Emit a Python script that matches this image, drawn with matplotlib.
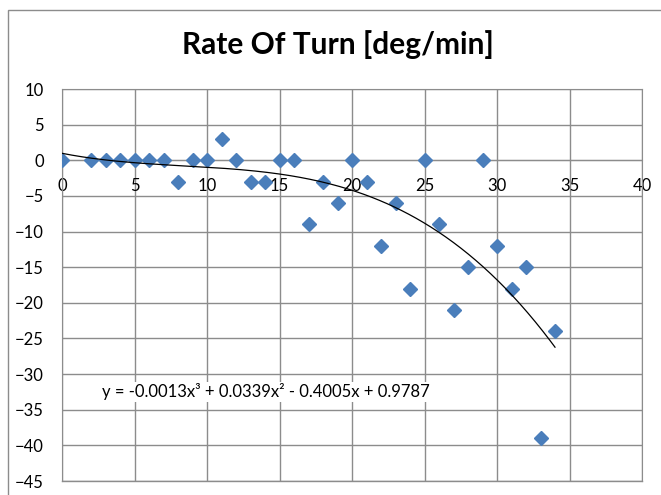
import numpy as np
import matplotlib
matplotlib.use('Agg')
import matplotlib.pyplot as plt
from matplotlib.patches import Rectangle

# Rate of turn samples
x_vals = [0, 2, 3, 4, 5, 6, 7, 8, 9, 10, 11, 12, 13, 14, 15, 16, 17, 18, 19, 20,
          21, 22, 23, 24, 25, 26, 27, 28, 29, 30, 31, 32, 33, 34]
y_vals = [0, 0, 0, 0, 0, 0, 0, -3, 0, 0, 3, 0, -3, -3, 0, 0, -9, -3, -6, 0,
          -3, -12, -6, -18, 0, -9, -21, -15, 0, -12, -18, -15, -39, -24]
x_ticks = [0, 5, 10, 15, 20, 25, 30, 35, 40]
y_ticks = [10, 5, 0, -5, -10, -15, -20, -25, -30, -35, -40, -45]
equation = 'y = -0.0013x\u00b3 + 0.0339x\u00b2 - 0.4005x + 0.9787'

plt.rcParams['font.family'] = ['Lato', 'DejaVu Sans']

fig = plt.figure(figsize=(6.61, 4.95), dpi=100)
ax = fig.add_axes([62/661, 1 - 481/495, (642 - 62)/661, (481 - 89)/495])

# outer chart border
fig.patches.append(Rectangle((8/661, -0.1), 1.2, 1 - 10/495 + 0.1,
                             transform=fig.transFigure, fill=False,
                             edgecolor='#8c8c8c', linewidth=1.0))

ax.set_xlim(0, 40)
ax.set_ylim(-45, 10)
ax.set_xticks(x_ticks)
ax.set_yticks(y_ticks)
ax.grid(True, color='#8c8c8c', linewidth=1.0)
ax.set_axisbelow(True)

for side in ['top', 'right', 'left']:
    ax.spines[side].set_color('#8c8c8c')
ax.spines['bottom'].set_position(('data', 0))
ax.spines['bottom'].set_color('#8c8c8c')
ax.tick_params(length=0, labelsize=12)
ax.tick_params(axis='x', pad=13)
ax.tick_params(axis='y', pad=13)

# bottom border of plot area
ax.axhline(-45, color='#8c8c8c', linewidth=1.0, clip_on=False)

ax.plot(x_vals, y_vals, linestyle='none', marker='D', markersize=7.5,
        color='#4a7ebb', zorder=3)

coef = np.polyfit(x_vals, y_vals, 3)
xs = np.linspace(0, 34, 200)
ax.plot(xs, np.polyval(coef, xs), color='black', linewidth=0.9, zorder=4)

ax.text(2.75, -32.5, equation, fontsize=12, va='center', ha='left',
        bbox=dict(facecolor='white', edgecolor='none', pad=1), zorder=5)

fig.text(338/661, 1 - 45/495, 'Rate Of Turn [deg/min]', fontsize=21.5,
         fontweight='bold', ha='center', va='center')

fig.savefig('out.png', dpi=100)
